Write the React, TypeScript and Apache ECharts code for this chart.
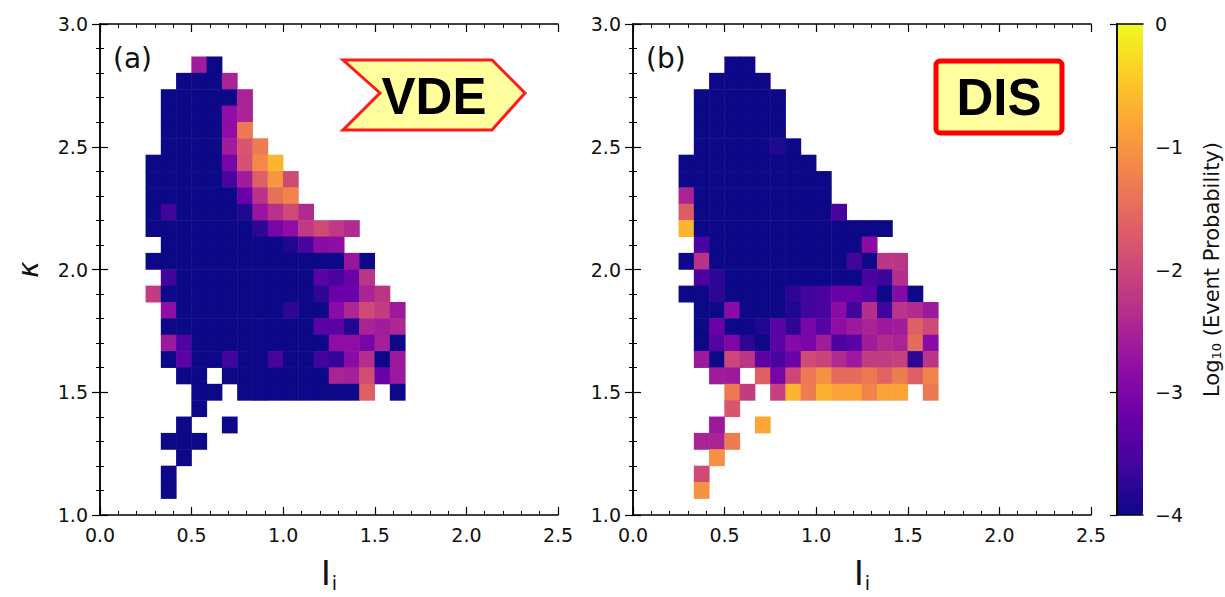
import React, { useEffect, useRef } from "react";
import * as echarts from "echarts";

// Axis ranges and bins (30 x 30 histogram bins)
const X_RANGE = [0, 2.5];
const Y_RANGE = [1, 3];
const N_BINS = 30;
const COLOR_TICKS = [0, -1, -2, -3, -4];

const PLASMA = [
  "#0d0887", "#41049d", "#6a00a8", "#8f0da4", "#b12a90", "#cc4778",
  "#e16462", "#f2844b", "#fca636", "#fcce25", "#f0f921",
];

// rows: [yBin (from bottom), first xBin, log10 probabilities...]
const vdeRows: [number, number, (number | null)[]][] = [
  [27, 6, [-2.6, -4]],
  [26, 5, [-4, -4, -4, -2.5]],
  [25, 4, [-4, -4, -4, -4, -4, -2.5]],
  [24, 4, [-4, -4, -4, -4, -2.8, -2.5]],
  [23, 4, [-4, -4, -4, -4, -2.8, -1.35]],
  [22, 4, [-4, -4, -4, -4, -2.6, -1.8, -1.3]],
  [21, 3, [-4, -4, -4, -4, -4, -3.05, -1.85, -1.15, -0.65]],
  [20, 3, [-4, -4, -4, -4, -4, -3.5, -2.6, -1.65, -1.0, -1.95]],
  [19, 3, [-4, -4, -4, -4, -4, -4, -3.2, -2.3, -1.45, -1.2]],
  [18, 3, [-4, -3.6, -4, -4, -4, -4, -3.85, -2.7, -2.3, -1.95, -2.4]],
  [17, 3, [-4, -4, -4, -4, -4, -4, -4, -3.75, -3.05, -2.8, -2.2, -1.95, -2.2, -2.4]],
  [16, 4, [-4, -4, -4, -4, -4, -4, -4, -4, -3.85, -3.5, -2.85, -2.8]],
  [15, 3, [-4, -4, -4, -4, -4, -4, -4, -4, -4, -4, -4, -4, -4, -2.7, -4]],
  [14, 4, [-3.6, -4, -4, -4, -4, -4, -4, -4, -4, -4, -3.35, -3.5, -3.2, -2.25]],
  [13, 3, [-2.15, -4, -4, -4, -4, -4, -4, -4, -4, -4, -4, -3.75, -3.2, -3.2, -2.5, -2.25]],
  [12, 4, [-2.8, -4, -4, -4, -4, -4, -4, -4, -3.75, -4, -4, -2.85, -2.45, -1.95, -2.15, -2.65]],
  [11, 4, [-4, -4, -4, -4, -4, -4, -4, -4, -4, -4, -3.35, -3.35, -3.85, -2.5, -2.6, -2.45]],
  [10, 4, [-2.65, -3.45, -4, -4, -4, -4, -4, -4, -4, -4, -4, -2.8, -2.8, -3.05, -2.55, -4]],
  [9, 4, [-4, -3.35, -4, -4, -3.6, -4, -4, -3.55, -4, -4, -3.6, -3.7, -2.85, -2.35, -4, -2.65]],
  [8, 5, [-4, -4, null, -4, -4, -4, -4, -4, -4, -4, -2.5, -2.55, -1.9, -3.2, -2.65]],
  [7, 6, [-4, -4, null, -4, -4, -4, -4, -4, -4, -4, -4, -1.65, null, -4]],
  [6, 6, [-4]],
  [5, 5, [-4, null, null, -4]],
  [4, 4, [-4, -4, -4]],
  [3, 5, [-4]],
  [2, 4, [-4]],
  [1, 4, [-4]],
];

const disRows: [number, number, (number | null)[]][] = [
  [27, 6, [-4, -4]],
  [26, 5, [-4, -4, -4, -4]],
  [25, 4, [-4, -4, -4, -4, -4, -4]],
  [24, 4, [-4, -4, -4, -4, -4, -4]],
  [23, 4, [-4, -4, -4, -4, -4, -4]],
  [22, 4, [-4, -4, -4, -4, -4, -3.85, -4]],
  [21, 3, [-4, -4, -4, -4, -4, -4, -4, -4, -4]],
  [20, 3, [-4, -4, -4, -4, -4, -4, -4, -4, -4, -4]],
  [19, 3, [-2.5, -4, -4, -4, -4, -4, -4, -4, -4, -4]],
  [18, 3, [-1.7, -4, -4, -4, -4, -4, -4, -4, -4, -4, -3.5]],
  [17, 3, [-0.65, -4, -4, -4, -4, -4, -4, -4, -4, -4, -4, -4, -4, -4]],
  [16, 4, [-3.5, -4, -4, -4, -4, -4, -4, -4, -4, -4, -4, -2.85]],
  [15, 3, [-4, -2.3, -4, -4, -4, -4, -4, -4, -4, -4, -4, -3.6, -4, -2.25, -2.25]],
  [14, 4, [-3.5, -3.75, -4, -4, -4, -4, -4, -4, -4, -4, -4, -3.5, -3.65, -2.35]],
  [13, 3, [-4, -4, -3.75, -4, -4, -4, -4, -3.75, -3.6, -3.5, -3.2, -3.2, -3.4, -4, -2.9, -4]],
  [12, 4, [-4, -4, -2.85, -4, -4, -4, -3.85, -3.6, -3.5, -2.85, -3.6, -2.35, -3.6, -2.25, -2.4, -2.65]],
  [11, 4, [-4, -3.2, -4, -4, -3.85, -3.35, -3.75, -3.05, -3.4, -2.8, -2.65, -2.5, -2.65, -2.6, -1.65, -1.95]],
  [10, 4, [-4, -3.4, -3.0, -3.75, -4, -3.35, -2.9, -3.05, -2.6, -3.5, -3.35, -2.6, -2.4, -2.5, -1.5, -2.85]],
  [9, 4, [-2.65, -4, -2.0, -2.25, -3.35, -3.5, -3.2, -1.95, -2.05, -2.4, -2.65, -2.15, -2.15, -2.1, -3.75, -2.25]],
  [8, 5, [-2.6, -2.65, null, -1.65, -3.05, -2.0, -1.35, -1.05, -1.5, -1.5, -1.35, -1.6, -1.3, -1.65, -1.2]],
  [7, 6, [-1.35, -2.15, null, -2.1, -0.65, -1.3, -0.7, -0.85, -0.85, -1.2, -0.85, -0.85, null, -1.35]],
  [6, 6, [-1.8]],
  [5, 5, [-2.65, null, null, -0.8]],
  [4, 4, [-2.5, -2.5, -1.3]],
  [3, 5, [-1.05]],
  [2, 4, [-1.95]],
  [1, 4, [-1.05]],
];

const xCats = Array.from({ length: N_BINS }, (_, k) =>
  (X_RANGE[0] + ((k + 0.5) * (X_RANGE[1] - X_RANGE[0])) / N_BINS).toFixed(3)
);
const yCats = Array.from({ length: N_BINS }, (_, k) =>
  (Y_RANGE[0] + ((k + 0.5) * (Y_RANGE[1] - Y_RANGE[0])) / N_BINS).toFixed(3)
);

function toCells(rows: [number, number, (number | null)[]][]) {
  const out: number[][] = [];
  rows.forEach(([j, k0, vals]) => {
    vals.forEach((v, i) => {
      if (v !== null) out.push([k0 + i, j, v]);
    });
  });
  return out;
}

const FONT = "DejaVu Sans";
const BLACK = "#000";
const tickFont = { fontFamily: FONT, fontSize: 19, color: "#111" };
const line = { show: true, lineStyle: { color: BLACK, width: 1.5 } };

function panelAxes(g: number, withYName: boolean) {
  const xs = [
    {
      type: "value", gridIndex: g, min: X_RANGE[0], max: X_RANGE[1], interval: 0.5,
      position: "bottom", axisLine: line,
      axisTick: { inside: true, length: 8, lineStyle: { color: BLACK, width: 1.2 } },
      minorTick: { show: true, splitNumber: 5, length: 4, lineStyle: { color: BLACK, width: 1 } },
      splitLine: { show: false }, minorSplitLine: { show: false },
      axisLabel: { ...tickFont, margin: 10, formatter: (v: number) => v.toFixed(1) },
      name: "{a|I}{b|i}", nameLocation: "middle", nameGap: 40,
      nameTextStyle: {
        rich: {
          a: { fontFamily: FONT, fontSize: 33, color: "#111" },
          b: { fontFamily: FONT, fontSize: 19, color: "#111", padding: [18, 0, 0, 1] },
        },
      },
    },
    {
      type: "value", gridIndex: g, min: X_RANGE[0], max: X_RANGE[1], interval: 0.5,
      position: "top", axisLine: line,
      axisTick: { inside: true, length: 8, lineStyle: { color: BLACK, width: 1.2 } },
      minorTick: { show: true, splitNumber: 5, length: 4, lineStyle: { color: BLACK, width: 1 } },
      splitLine: { show: false }, axisLabel: { show: false },
    },
    { type: "category", gridIndex: g, data: xCats, show: false, boundaryGap: true },
  ];
  const ys = [
    {
      type: "value", gridIndex: g, min: Y_RANGE[0], max: Y_RANGE[1], interval: 0.5,
      position: "left", axisLine: line,
      axisTick: { inside: true, length: 8, lineStyle: { color: BLACK, width: 1.2 } },
      minorTick: { show: true, splitNumber: 5, length: 4, lineStyle: { color: BLACK, width: 1 } },
      splitLine: { show: false }, minorSplitLine: { show: false },
      axisLabel: { ...tickFont, margin: 12, formatter: (v: number) => v.toFixed(1) },
      name: withYName ? "κ" : "", nameLocation: "middle", nameGap: 58,
      nameTextStyle: { fontFamily: FONT, fontSize: 28, fontStyle: "italic", color: "#111" },
    },
    {
      type: "value", gridIndex: g, min: Y_RANGE[0], max: Y_RANGE[1], interval: 0.5,
      position: "right", axisLine: line,
      axisTick: { inside: true, length: 8, lineStyle: { color: BLACK, width: 1.2 } },
      minorTick: { show: true, splitNumber: 5, length: 4, lineStyle: { color: BLACK, width: 1 } },
      splitLine: { show: false }, axisLabel: { show: false },
    },
    { type: "category", gridIndex: g, data: yCats, show: false, boundaryGap: true },
  ];
  return { xs, ys };
}

export default function App() {
  const ref = useRef<HTMLDivElement>(null);
  useEffect(() => {
    if (!ref.current) return;
    const chart = echarts.init(ref.current, undefined, { renderer: "svg" });
    const a = panelAxes(0, true);
    const b = panelAxes(1, false);
    const cbLine = { show: true, lineStyle: { color: BLACK, width: 1.5 } };
    const option: any = {
      animation: false,
      backgroundColor: "#fff",
      grid: [
        { left: 100, top: 24, width: 458, height: 491 },
        { left: 633, top: 24, width: 458, height: 491 },
        { left: 1117, top: 24, width: 26, height: 491 },
      ],
      xAxis: [
        ...a.xs,
        ...b.xs,
        { type: "value", gridIndex: 2, position: "bottom", axisLine: cbLine, axisTick: { show: false }, axisLabel: { show: false }, splitLine: { show: false }, z: 10 },
        { type: "value", gridIndex: 2, position: "top", axisLine: cbLine, axisTick: { show: false }, axisLabel: { show: false }, splitLine: { show: false }, z: 10 },
      ],
      yAxis: [
        ...a.ys,
        ...b.ys,
        {
          type: "value", gridIndex: 2, min: COLOR_TICKS[4], max: COLOR_TICKS[0], interval: 1,
          position: "right", axisLine: cbLine, z: 10,
          axisTick: { inside: true, length: 7, lineStyle: { color: BLACK, width: 1.2 } },
          splitLine: { show: false },
          axisLabel: { ...tickFont, margin: 12, formatter: (v: number) => (v === 0 ? "0" : "\u2212" + Math.abs(v)) },
          name: "{a|Log}{s|10}{a| (Event Probability)}", nameLocation: "middle", nameGap: 58,
          nameTextStyle: {
            rich: {
              a: { fontFamily: FONT, fontSize: 21, color: "#111" },
              s: { fontFamily: FONT, fontSize: 13, color: "#111", padding: [9, 0, 0, 0] },
            },
          },
        },
        { type: "value", gridIndex: 2, position: "left", axisLine: cbLine, axisTick: { show: false }, axisLabel: { show: false }, splitLine: { show: false }, z: 10 },
      ],
      visualMap: {
        type: "continuous", min: COLOR_TICKS[4], max: COLOR_TICKS[0], seriesIndex: [0, 1], dimension: 2,
        inRange: { color: PLASMA }, show: true, calculable: false, hoverLink: false,
        left: 1117, top: 24, itemWidth: 26, itemHeight: 491, padding: 0, orient: "vertical", z: 1,
      },
      series: [
        { type: "heatmap", name: "VDE", xAxisIndex: 2, yAxisIndex: 2, data: toCells(vdeRows), itemStyle: { borderWidth: 0 }, emphasis: { disabled: true } },
        { type: "heatmap", name: "DIS", xAxisIndex: 5, yAxisIndex: 5, data: toCells(disRows), itemStyle: { borderWidth: 0 }, emphasis: { disabled: true } },
      ],
      graphic: [
        { type: "text", left: 113, top: 44, style: { text: "(a)", font: `28px "${FONT}"`, fill: "#111" } },
        { type: "text", left: 646, top: 44, style: { text: "(b)", font: `28px "${FONT}"`, fill: "#111" } },
        {
          type: "polygon", z: 20,
          shape: { points: [[343, 60], [492, 60], [525, 93], [492, 130], [343, 130], [380, 93]] },
          style: { fill: "#ffff9e", stroke: "#ff1a1a", lineWidth: 3 },
        },
        { type: "text", z: 21, x: 434, y: 96, style: { text: "VDE", font: 'bold 51px "Liberation Sans"', fill: "#000", align: "center", verticalAlign: "middle" } },
        {
          type: "rect", z: 20,
          shape: { x: 936, y: 61, width: 126, height: 72, r: 4 },
          style: { fill: "#ffff9e", stroke: "#ff0000", lineWidth: 5 },
        },
        { type: "text", z: 21, x: 999, y: 97, style: { text: "DIS", font: 'bold 51px "Liberation Sans"', fill: "#000", align: "center", verticalAlign: "middle" } },
      ],
    };
    chart.setOption(option);
    return () => chart.dispose();
  }, []);
  return <div ref={ref} style={{ position: "fixed", left: 0, top: 0, width: 1225, height: 597 }} />;
}
